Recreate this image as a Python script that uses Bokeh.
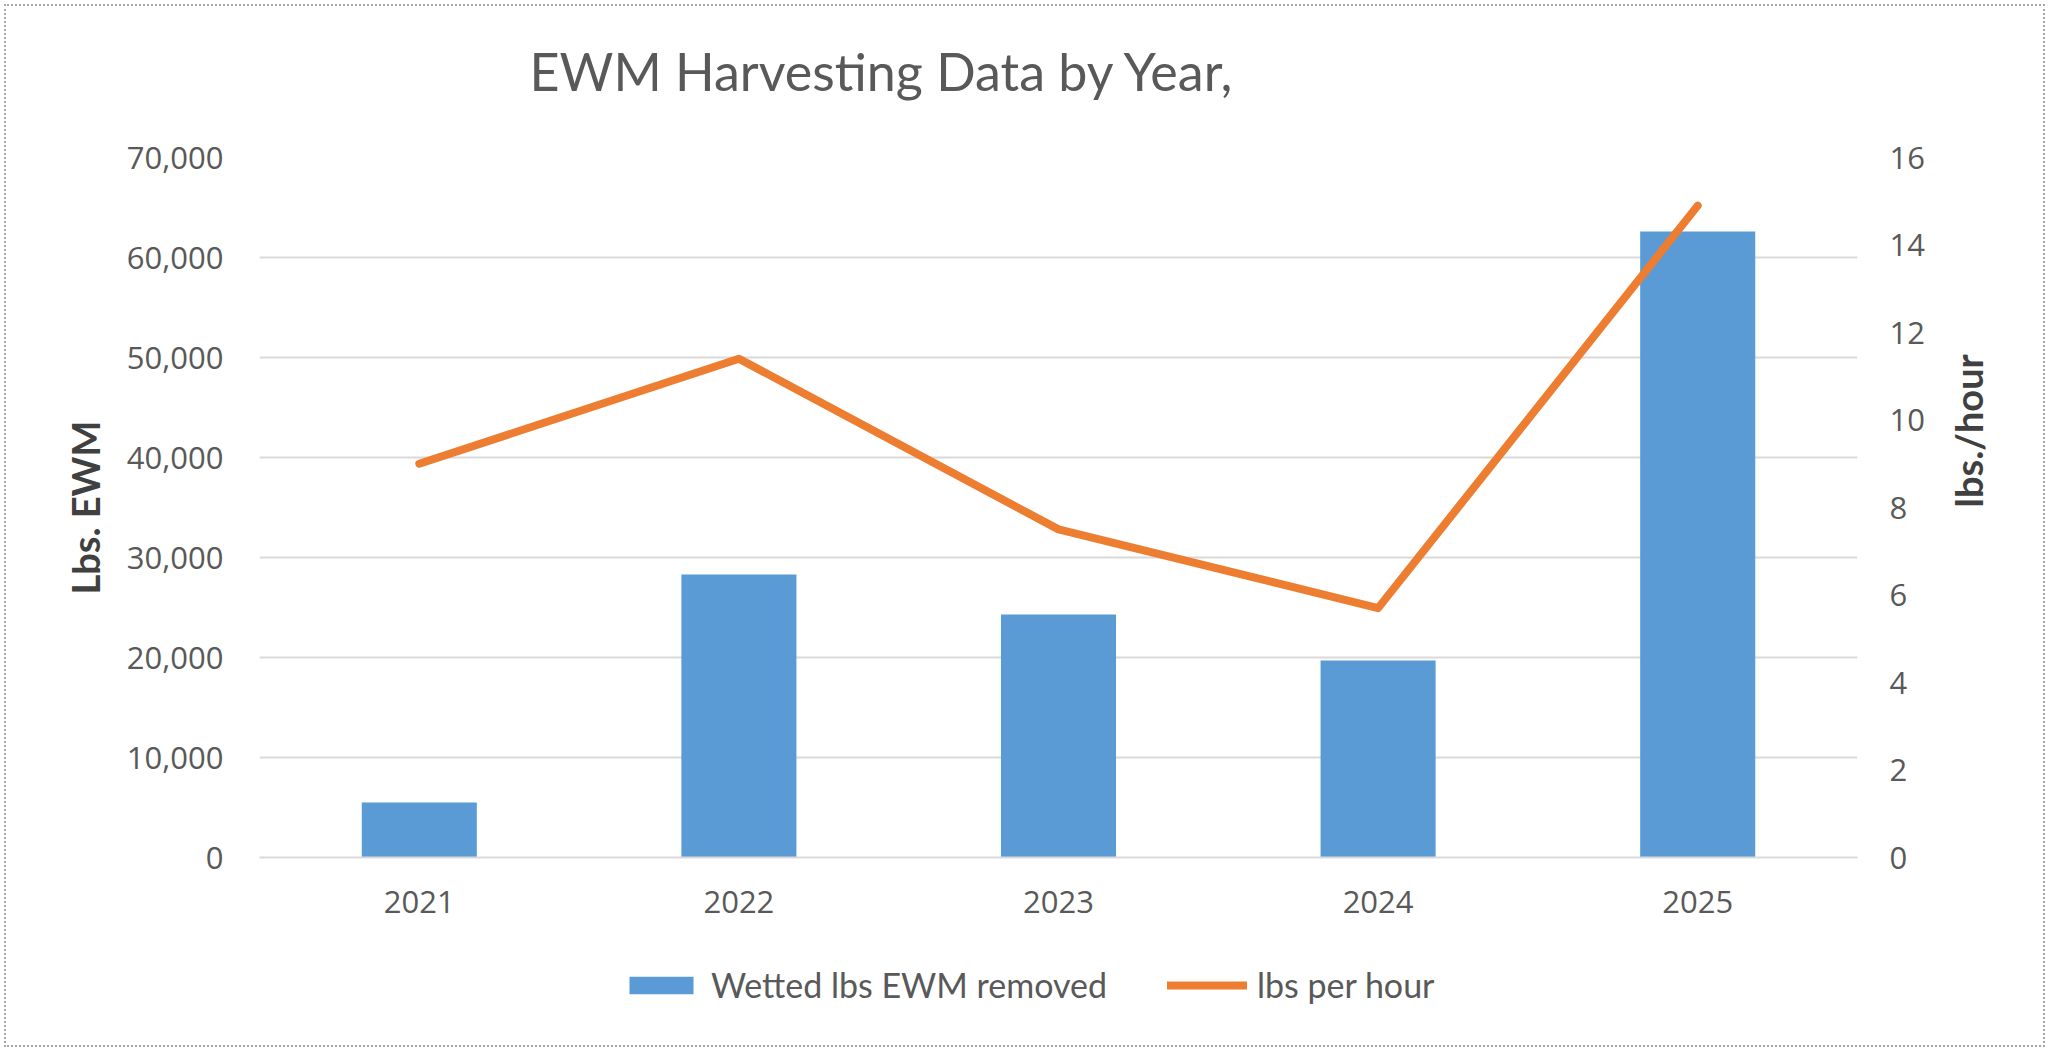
import math
from bokeh.plotting import figure
from bokeh.layouts import column
from bokeh.models import (FactorRange, Range1d, LinearAxis, FixedTicker, NumeralTickFormatter,
                          Legend, LegendItem, Label)
from bokeh.embed import file_html
from bokeh.resources import INLINE

years = ["2021", "2022", "2023", "2024", "2025"]
lbs_removed = [5500, 28300, 24300, 19700, 62600]
lbs_per_hour = [9.0, 11.4, 7.5, 5.7, 14.9]
left_ticks = [0, 10000, 20000, 30000, 40000, 50000, 60000, 70000]
right_ticks = [0, 2, 4, 6, 8, 10, 12, 14, 16]

title_text = "EWM Harvesting Data by Year,"
left_label = "Lbs. EWM"
right_label = "lbs./hour"
bar_name = "Wetted lbs EWM removed"
line_name = "lbs per hour"

BAR = "#5B9BD5"
LINE = "#ED7D31"
GRID = "#D9D9D9"
TXT = "#595959"
AXT = "#404040"

W = 2037
FRAME_W = 1598
HEAD_H = 121
MAIN_H = 814
LEG_H = 104


def blank(h):
    f = figure(width=W, height=h, x_range=Range1d(0, FRAME_W), y_range=Range1d(0, h),
               output_backend="svg", toolbar_location=None, x_axis_type=None, y_axis_type=None,
               min_border_left=0, min_border_right=0, min_border_top=0, min_border_bottom=0)
    f.outline_line_color = None
    f.grid.grid_line_color = None
    f.background_fill_color = "white"
    f.border_fill_color = "white"
    return f


# title row
hd = blank(HEAD_H)
hd.add_layout(Label(x=270, y=57, text=title_text, text_align="left", text_baseline="middle",
                    text_font="Lato", text_font_size="52px", text_color=TXT))

# main chart
p = figure(width=W, height=MAIN_H, x_range=FactorRange(*years, range_padding=0),
           y_range=Range1d(0, 70000), output_backend="svg", toolbar_location=None,
           min_border_left=253, min_border_right=186, min_border_top=30, min_border_bottom=84)
p.extra_y_ranges = {"rate": Range1d(0, 16)}
p.outline_line_color = None
p.background_fill_color = "white"
p.border_fill_color = "white"

bars = p.vbar(x=years, top=lbs_removed, width=0.36, fill_color=BAR, line_color=None)
line = p.line(x=years, y=lbs_per_hour, y_range_name="rate", line_color=LINE, line_width=8,
              line_cap="round", line_join="round")

p.xgrid.grid_line_color = None
p.ygrid.ticker = FixedTicker(ticks=left_ticks)
p.ygrid.grid_line_color = GRID
p.ygrid.grid_line_width = 2

xa = p.xaxis[0]
xa.axis_line_color = GRID
xa.axis_line_width = 2
xa.major_tick_line_color = None
xa.minor_tick_line_color = None
xa.major_label_text_font = "Open Sans"
xa.major_label_text_font_size = "31px"
xa.major_label_text_color = TXT
xa.major_label_standoff = 27

ya = p.yaxis[0]
ya.ticker = FixedTicker(ticks=left_ticks)
ya.formatter = NumeralTickFormatter(format="0,0")
ya.axis_line_color = None
ya.major_tick_line_color = None
ya.minor_tick_line_color = None
ya.major_label_text_font = "Open Sans"
ya.major_label_text_font_size = "31px"
ya.major_label_text_color = TXT
ya.major_label_standoff = 30
ya.axis_label = left_label
ya.axis_label_text_font = "Lato"
ya.axis_label_text_font_size = "38px"
ya.axis_label_text_font_style = "bold"
ya.axis_label_text_color = AXT
ya.axis_label_standoff = 16

ra = LinearAxis(y_range_name="rate", ticker=FixedTicker(ticks=right_ticks))
ra.axis_line_color = None
ra.major_tick_line_color = None
ra.minor_tick_line_color = None
ra.major_label_text_font = "Open Sans"
ra.major_label_text_font_size = "31px"
ra.major_label_text_color = TXT
ra.major_label_standoff = 26
ra.axis_label = right_label
ra.axis_label_text_font = "Lato"
ra.axis_label_text_font_size = "38px"
ra.axis_label_text_font_style = "bold"
ra.axis_label_text_color = AXT
ra.axis_label_standoff = 40
try:
    ra.axis_label_orientation = math.pi / 2
except AttributeError:
    pass
p.add_layout(ra, "right")

# legend row (key renderers sit entirely outside the visible range)
lg = blank(LEG_H)
kb = lg.vbar(x=[-5000], bottom=[5000], top=[6000], width=10, fill_color=BAR, line_color=None)
kl = lg.line(x=[-5000, -4000], y=[5000, 5000], line_color=LINE, line_width=8, line_cap="round")
legend = Legend(items=[LegendItem(label=bar_name, renderers=[kb]),
                       LegendItem(label=line_name, renderers=[kl])],
                orientation="horizontal", location=(362, 40))
legend.glyph_width = 80
legend.glyph_height = 22
legend.label_standoff = 10
legend.spacing = 60
legend.padding = 0
legend.margin = 0
legend.border_line_color = None
legend.background_fill_alpha = 0
legend.label_text_font = "Lato"
legend.label_text_font_size = "34px"
legend.label_text_color = TXT
lg.add_layout(legend)

layout = column(hd, p, lg, spacing=0)
layout.styles = {"margin": "6px", "outline": "2px dotted #A6A6A6", "outline-offset": "0px"}

open("out.html", "w").write(file_html(layout, INLINE))
